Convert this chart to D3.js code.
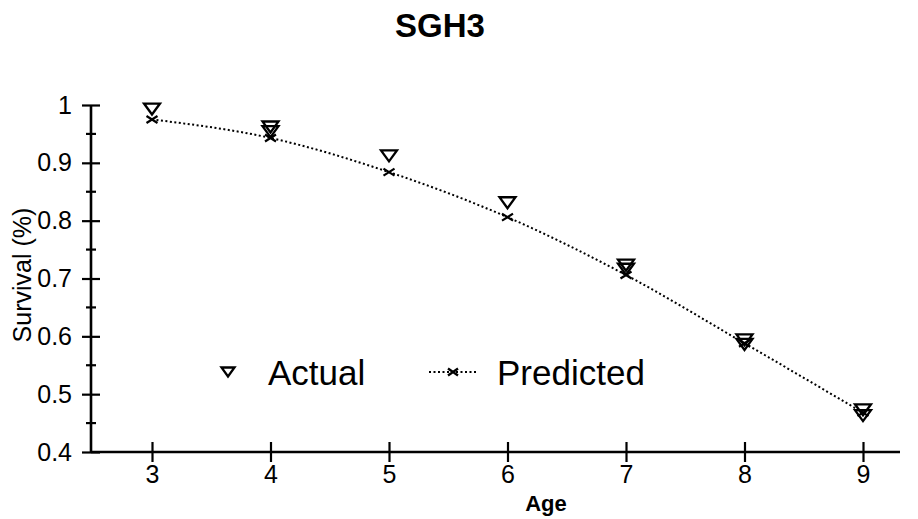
<!DOCTYPE html>
<html>
<head>
<meta charset="utf-8">
<script src="https://cdn.jsdelivr.net/npm/d3@7"></script>
<style>
  html, body { margin: 0; padding: 0; background: #fff; }
  svg { display: block; font-family: "Liberation Sans", Arial, sans-serif; }
</style>
</head>
<body>
<svg id="chart" width="918" height="519"></svg>
<script>
// Survival by age: observed values (some ages have two observations) and model prediction
const ages = [3, 4, 5, 6, 7, 8, 9];
const predicted = [0.975, 0.943, 0.884, 0.806, 0.706, 0.588, 0.468];
const actualAges = [3, 4, 4, 5, 6, 7, 7, 8, 8, 9, 9];
const actualValues = [0.993, 0.962, 0.954, 0.912, 0.831, 0.723, 0.716, 0.594, 0.586, 0.473, 0.463];
const yTicks = [0.4, 0.5, 0.6, 0.7, 0.8, 0.9, 1];
const yMinorTicks = [0.45, 0.55, 0.65, 0.75, 0.85, 0.95];
const seriesNames = ["Actual", "Predicted"];

const svg = d3.select("#chart");
const FONT = "Liberation Sans, Arial, sans-serif";

const x = d3.scaleLinear().domain([3, 9]).range([152, 863]);
const y = d3.scaleLinear().domain([0.4, 1]).range([452, 105]);
const xLeft = 91, xRight = 900;

// Title
svg.append("text")
  .attr("x", 440).attr("y", 37)
  .attr("text-anchor", "middle")
  .attr("font-size", 33).attr("font-weight", "bold")
  .text("SGH3");

// Y axis with crossing ticks
const yAxis = svg.append("g")
  .attr("transform", `translate(${xLeft},0)`)
  .call(d3.axisLeft(y).tickValues(yTicks).tickFormat(d => d === 1 ? "1" : d3.format(".1f")(d)).tickSize(9).tickPadding(10));
yAxis.select(".domain").remove();
yAxis.selectAll(".tick line").attr("x1", 9).attr("x2", -9).attr("stroke", "#000").attr("stroke-width", 2.2);
yAxis.selectAll(".tick text").attr("font-size", 25).attr("fill", "#000").attr("font-family", FONT);
yAxis.append("line")
  .attr("x1", 0).attr("x2", 0)
  .attr("y1", y(0.4)).attr("y2", y(1))
  .attr("stroke", "#000").attr("stroke-width", 2.6);
yAxis.selectAll(".minor")
  .data(yMinorTicks)
  .join("line")
  .attr("class", "minor")
  .attr("x1", -5).attr("x2", 5)
  .attr("y1", d => y(d)).attr("y2", d => y(d))
  .attr("stroke", "#000").attr("stroke-width", 2.2);

// X axis with crossing ticks
const xAxis = svg.append("g")
  .attr("transform", `translate(0,${y(0.4)})`)
  .call(d3.axisBottom(x).tickValues(ages).tickFormat(d3.format("d")).tickSize(10).tickPadding(3));
xAxis.select(".domain").remove();
xAxis.selectAll(".tick line").attr("y1", -10).attr("y2", 10).attr("stroke", "#000").attr("stroke-width", 2.2);
xAxis.selectAll(".tick text").attr("font-size", 25).attr("fill", "#000").attr("font-family", FONT);
xAxis.append("line")
  .attr("x1", xLeft).attr("x2", xRight)
  .attr("y1", 0).attr("y2", 0)
  .attr("stroke", "#000").attr("stroke-width", 2.6);

// Axis titles
svg.append("text")
  .attr("x", 546).attr("y", 511)
  .attr("text-anchor", "middle")
  .attr("font-size", 22).attr("font-weight", "bold")
  .text("Age");
svg.append("text")
  .attr("transform", "translate(31,275) rotate(-90)")
  .attr("text-anchor", "middle")
  .attr("font-size", 25)
  .text("Survival (%)");

// Marker shapes
const triPath = (w, h) => `M${-w / 2},${-h / 2}L${w / 2},${-h / 2}L0,${h / 2}Z`;
const crossPath = (w, h) => `M${-w / 2},${-h / 2}L${w / 2},${h / 2}M${-w / 2},${h / 2}L${w / 2},${-h / 2}`;

// Predicted: dotted smooth line with x markers
const pts = ages.map((a, i) => [a, predicted[i]]);
svg.append("path")
  .attr("d", d3.line().x(d => x(d[0])).y(d => y(d[1])).curve(d3.curveMonotoneX)(pts))
  .attr("fill", "none")
  .attr("stroke", "#000")
  .attr("stroke-width", 2)
  .attr("stroke-dasharray", "2,2.5");
svg.append("g").selectAll("path")
  .data(pts)
  .join("path")
  .attr("transform", d => `translate(${x(d[0])},${y(d[1])})`)
  .attr("d", crossPath(11, 7))
  .attr("stroke", "#000").attr("stroke-width", 2.2).attr("fill", "none");

// Actual: open downward triangles
svg.append("g").selectAll("path")
  .data(actualAges.map((a, i) => [a, actualValues[i]]))
  .join("path")
  .attr("transform", d => `translate(${x(d[0])},${y(d[1])})`)
  .attr("d", triPath(16, 11))
  .attr("stroke", "#000").attr("stroke-width", 2.3).attr("fill", "none");

// Legend
const legend = svg.append("g");
legend.append("path")
  .attr("transform", "translate(228,372)")
  .attr("d", triPath(13, 9))
  .attr("stroke", "#000").attr("stroke-width", 2.3).attr("fill", "none");
legend.append("text")
  .attr("x", 268).attr("y", 385)
  .attr("font-size", 35)
  .text(seriesNames[0]);
legend.append("line")
  .attr("x1", 429).attr("x2", 477)
  .attr("y1", 372).attr("y2", 372)
  .attr("stroke", "#000").attr("stroke-width", 1.8)
  .attr("stroke-dasharray", "2,2.5");
legend.append("path")
  .attr("transform", "translate(453,372)")
  .attr("d", crossPath(10, 7))
  .attr("stroke", "#000").attr("stroke-width", 2.4).attr("fill", "none");
legend.append("text")
  .attr("x", 497).attr("y", 385)
  .attr("font-size", 35)
  .text(seriesNames[1]);
</script>
</body>
</html>
